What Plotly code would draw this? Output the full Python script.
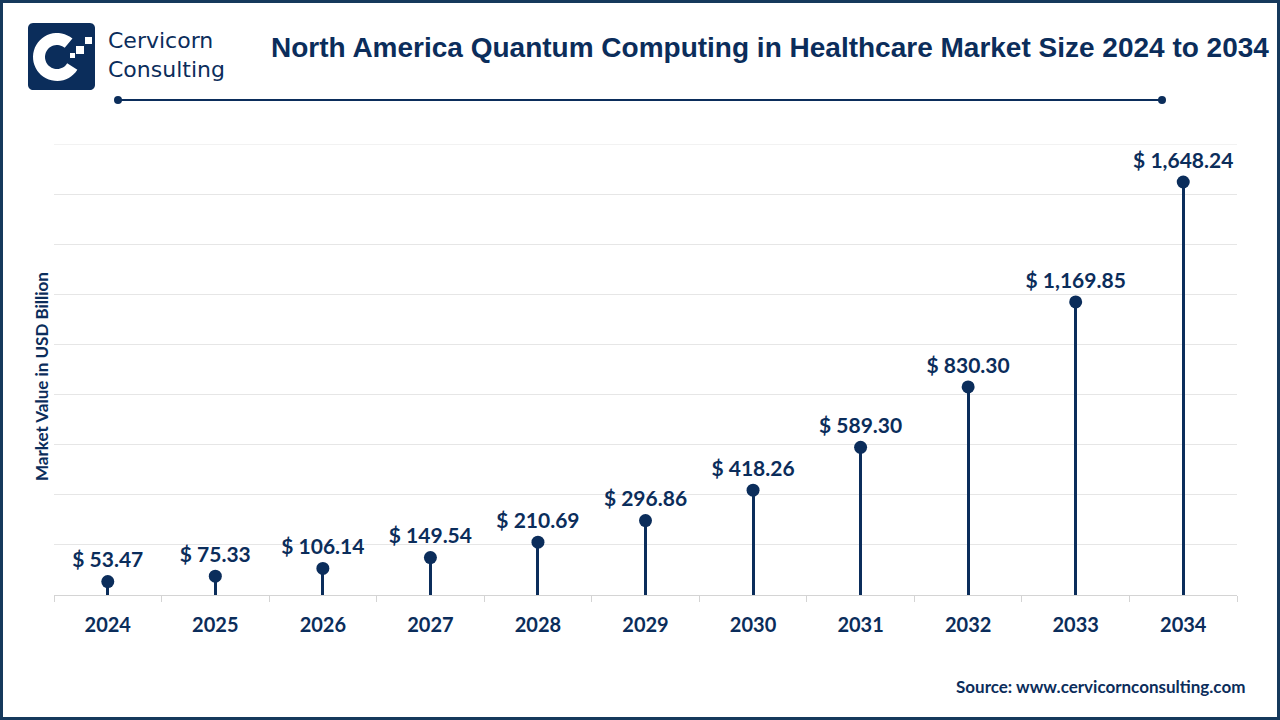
import numpy as np
import plotly.graph_objects as go

years = ["2024", "2025", "2026", "2027", "2028", "2029", "2030", "2031", "2032", "2033", "2034"]
values = [53.47, 75.33, 106.14, 149.54, 210.69, 296.86, 418.26, 589.30, 830.30, 1169.85, 1648.24]
labels = ["$ 53.47", "$ 75.33", "$ 106.14", "$ 149.54", "$ 210.69", "$ 296.86",
          "$ 418.26", "$ 589.30", "$ 830.30", "$ 1,169.85", "$ 1,648.24"]
y_max = 1800
y_step = 200

NAVY = "#0b2d5b"
W, H = 1280, 720
L, R, T, B = 54, 1237, 144, 595

def px(x):
    return (x - L) / (R - L)

def py(y):
    return (B - y) / (B - T)

fig = go.Figure()
fig.add_trace(go.Bar(x=years, y=values, width=0.028, marker_color=NAVY,
                     marker_line_width=0, hoverinfo="skip", showlegend=False))
fig.add_trace(go.Scatter(x=years, y=values, mode="markers+text", text=labels,
                         textposition="top center",
                         textfont=dict(family="Lato", size=21, color=NAVY, weight="bold"),
                         marker=dict(size=13, color=NAVY), showlegend=False,
                         cliponaxis=False))

shapes = []
# top gridline at the edge of the range
shapes.append(dict(type="line", xref="paper", yref="y", x0=0, x1=1, y0=y_max, y1=y_max,
                   line=dict(color="#e6e6e6", width=1), layer="below"))
# outer frame
shapes.append(dict(type="rect", xref="paper", yref="paper", x0=px(1.5), x1=px(1278.5),
                   y0=py(1.5), y1=py(718.5), line=dict(color="#16395c", width=3), layer="above"))
# decorative line under title
shapes.append(dict(type="line", xref="paper", yref="paper", x0=px(118), x1=px(1162),
                   y0=py(100), y1=py(100), line=dict(color=NAVY, width=2)))
for cx in (118, 1162):
    shapes.append(dict(type="circle", xref="paper", yref="paper", x0=px(cx - 4), x1=px(cx + 4),
                       y0=py(100 - 4), y1=py(100 + 4), fillcolor=NAVY, line=dict(width=0)))

# logo: rounded square
def rr_path(x0, y0, x1, y1, r):
    pts = []
    for (cx, cy, a0) in [(x1 - r, y0 + r, -90), (x1 - r, y1 - r, 0), (x0 + r, y1 - r, 90), (x0 + r, y0 + r, 180)]:
        for a in np.linspace(a0, a0 + 90, 8):
            t = np.radians(a)
            pts.append((cx + r * np.cos(t), cy + r * np.sin(t)))
    return "M " + " L ".join(f"{px(x):.5f},{py(y):.5f}" for x, y in pts) + " Z"

shapes.append(dict(type="path", xref="paper", yref="paper", path=rr_path(28, 23, 95, 90, 5),
                   fillcolor=NAVY, line=dict(width=0)))
# white C ring
cx, cy, ro, ri = 57, 57, 24, 12
angs = np.linspace(50, 328, 40)
outer = [(cx + ro * np.cos(np.radians(a)), cy - ro * np.sin(np.radians(a))) for a in angs]
inner = [(cx + ri * np.cos(np.radians(a)), cy - ri * np.sin(np.radians(a))) for a in angs[::-1]]
cpath = "M " + " L ".join(f"{px(x):.5f},{py(y):.5f}" for x, y in outer + inner) + " Z"
shapes.append(dict(type="path", xref="paper", yref="paper", path=cpath,
                   fillcolor="white", line=dict(width=0)))
for (sx0, sy0, s) in [(76, 46, 8), (85, 37, 7), (70, 53, 5)]:
    shapes.append(dict(type="rect", xref="paper", yref="paper", x0=px(sx0), x1=px(sx0 + s),
                       y0=py(sy0), y1=py(sy0 + s), fillcolor="white", line=dict(width=0)))

annotations = [
    dict(text="Cervicorn<br>Consulting", x=px(106), y=py(55), xref="paper", yref="paper",
         xanchor="left", yanchor="middle", align="left", showarrow=False,
         font=dict(family="DejaVu Sans", size=22, color=NAVY)),
    dict(text="North America Quantum Computing in Healthcare Market Size 2024 to 2034",
         x=px(770), y=py(48), xref="paper", yref="paper", xanchor="center", yanchor="middle",
         showarrow=False, font=dict(family="Liberation Sans", size=28, color=NAVY, weight="bold")),
    dict(text="Source: www.cervicornconsulting.com", x=px(1247), y=py(686), xref="paper",
         yref="paper", xanchor="right", yanchor="middle", showarrow=False,
         font=dict(family="Lato", size=17, color=NAVY, weight="bold")),
    dict(text="Market Value in USD Billion", x=px(41), y=py(377), xref="paper", yref="paper",
         xanchor="center", yanchor="middle", textangle=-90, showarrow=False,
         font=dict(family="Lato", size=17, color=NAVY, weight="bold")),
]

fig.update_layout(
    width=W, height=H,
    margin=dict(l=L, r=W - R, t=T, b=H - B),
    paper_bgcolor="white", plot_bgcolor="white",
    shapes=shapes, annotations=annotations,
    xaxis=dict(type="category", showgrid=False, showline=True, linecolor="#d4d4d4", linewidth=1,
               ticks="outside", tickson="boundaries", ticklen=6, tickcolor="#d4d4d4",
               ticklabelstandoff=12,
               tickfont=dict(family="Lato", size=20, color=NAVY, weight="bold"),
               range=[-0.5, 10.5], fixedrange=True),
    yaxis=dict(range=[0, y_max], dtick=y_step, showgrid=True, gridcolor="#e6e6e6", gridwidth=1,
               showticklabels=False, zeroline=False, showline=False, fixedrange=True),
    bargap=0,
)

fig.write_html("out.html")
